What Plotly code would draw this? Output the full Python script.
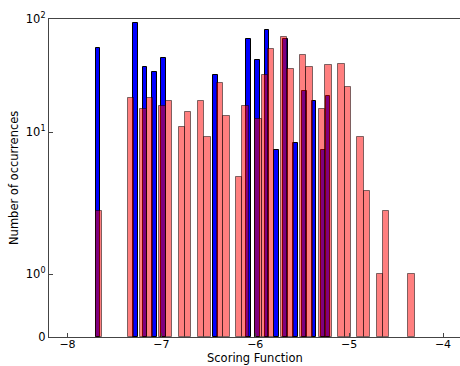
import numpy as np
import plotly.graph_objects as go

# ---- data (histogram counts) ----
bin_start = -7.7
blue_bin_width = 0.05
red_bin_width = 0.068

blue_bins = [0, 8, 10, 12, 14, 25, 32, 34, 36, 38, 40, 42, 44, 46, 48, 49]
blue_counts = [56, 93, 38, 34, 45, 32, 67, 43, 80, 7, 66, 8, 23, 19, 7, 21]

red_bins = [0, 5, 7, 8, 10, 11, 13, 14, 16, 17, 19, 20, 22, 23, 25, 26, 27,
            29, 30, 32, 33, 35, 36, 38, 39, 41, 42, 44, 45, 49]
red_counts = [2, 20, 16, 20, 17, 19, 11, 15, 19, 9, 27, 14, 4, 17, 13, 32, 54,
              69, 36, 48, 38, 16, 39, 40, 25, 9, 3, 1, 2, 1]

x_tick_vals = [-8, -7, -6, -5, -4]
x_tick_text = ["\u22128", "\u22127", "\u22126", "\u22125", "\u22124"]
y_tick_vals = [0, 1, 10, 100]
y_tick_text = ["0", "10<sup>0</sup>", "10<sup>1</sup>", "10<sup>2</sup>"]

x_title = "Scoring Function"
y_title = "Number of occurrences"

# ---- symlog scale (matplotlib classic: linthresh=2, linscale=1) ----
LINTHRESH = 2.0
LINSCALE_ADJ = 1.0 / (1.0 - 1.0 / 10.0)


def symlog(v):
    v = np.asarray(v, dtype=float)
    out = np.where(
        np.abs(v) <= LINTHRESH,
        v * LINSCALE_ADJ,
        np.sign(v) * LINTHRESH * (LINSCALE_ADJ + np.log10(np.maximum(np.abs(v), 1e-12) / LINTHRESH)),
    )
    return out


blue_centers = bin_start + (np.array(blue_bins) + 0.5) * blue_bin_width
red_centers = bin_start + (np.array(red_bins) + 0.5) * red_bin_width

fig = go.Figure()
fig.add_trace(go.Bar(
    x=blue_centers, y=symlog(blue_counts), width=blue_bin_width,
    marker=dict(color="rgb(0,0,255)", line=dict(color="black", width=1)),
    customdata=blue_counts, hovertemplate="%{x}: %{customdata}<extra></extra>",
))
fig.add_trace(go.Bar(
    x=red_centers, y=symlog(red_counts), width=red_bin_width,
    marker=dict(color="rgba(255,0,0,0.5)", line=dict(color="rgba(0,0,0,0.5)", width=1)),
    customdata=red_counts, hovertemplate="%{x}: %{customdata}<extra></extra>",
))

font = dict(family="DejaVu Sans", size=11.5, color="black")
fig.update_layout(
    width=460, height=366,
    margin=dict(l=49, r=0, t=19, b=29, autoexpand=False),
    barmode="overlay", bargap=0,
    showlegend=False,
    plot_bgcolor="white", paper_bgcolor="white",
    font=font,
    xaxis=dict(
        range=[-8.197, -3.819],
        tickvals=x_tick_vals, ticktext=x_tick_text,
        tickfont=dict(family="DejaVu Sans", size=11, color="black"),
        ticks="inside", ticklen=4, tickcolor="#444", ticklabelstandoff=-3,
        showline=True, linecolor="#444", linewidth=1.3, mirror=True,
        showgrid=False, zeroline=False, automargin=False,
    ),
    yaxis=dict(
        range=[0, float(symlog(100))],
        tickvals=list(symlog(y_tick_vals)), ticktext=y_tick_text,
        ticks="inside", ticklen=4, tickcolor="#444",
        showline=True, linecolor="#444", linewidth=1.3,
        showgrid=False, zeroline=False, automargin=False,
    ),
    annotations=[
        dict(text=x_title, xref="paper", yref="paper", x=0.5, y=0,
             xanchor="center", yanchor="bottom", yshift=-29, showarrow=False,
             borderpad=0, font=font),
        dict(text=y_title, xref="paper", yref="paper", x=0, y=0.5,
             xanchor="center", yanchor="middle", xshift=-35, textangle=-90,
             showarrow=False, font=font),
    ],
)

fig.write_html("out.html")
